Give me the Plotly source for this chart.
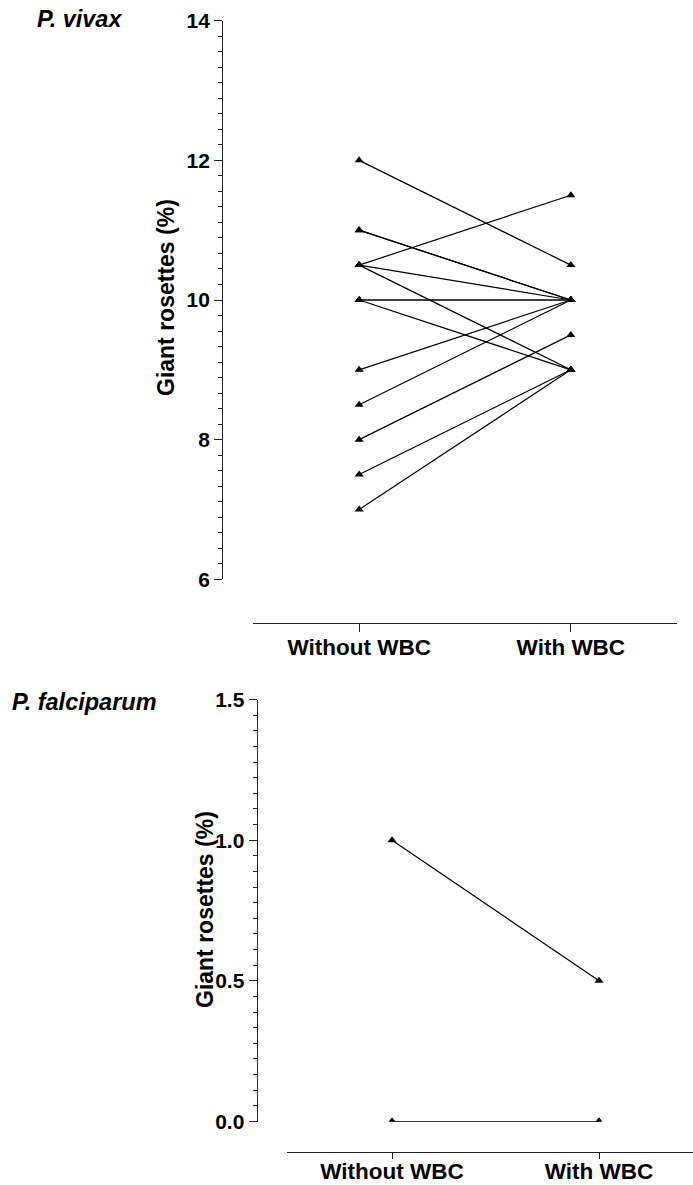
import plotly.graph_objects as go

# Paired measurements: each subject measured without and with white blood cells
groups = ["Without WBC", "With WBC"]

vivax_without = [12, 11, 11, 10.5, 10.5, 10.5, 10, 10, 10, 9, 8.5, 8, 7.5, 7]
vivax_with = [10.5, 10, 10, 11.5, 10, 9, 10, 10, 9, 10, 10, 9.5, 9, 9]

falc_without = [1.0, 0.0, 0.0]
falc_with = [0.5, 0.0, 0.0]

W, H = 693, 1185
FONT = "Liberation Sans"


def px_x(p):
    return p / W


def px_y(p):
    return (H - p) / H


fig = go.Figure()

# one line per subject, joining the two conditions
for a, b in zip(vivax_without, vivax_with):
    fig.add_trace(go.Scatter(
        x=[0, 1], y=[a, b], mode="lines+markers",
        line=dict(color="black", width=1.2),
        marker=dict(symbol="triangle-up", size=8, color="black"),
        xaxis="x", yaxis="y", showlegend=False, hoverinfo="skip"))

for a, b in zip(falc_without, falc_with):
    fig.add_trace(go.Scatter(
        x=[0, 1], y=[a, b], mode="lines+markers",
        line=dict(color="black", width=1.2),
        marker=dict(symbol="triangle-up", size=8, color="black"),
        xaxis="x2", yaxis="y2", showlegend=False, hoverinfo="skip"))

tickfont = dict(family=FONT, size=21, color="black", weight="bold")
xtickfont = dict(family=FONT, size=22.5, color="black", weight="bold")
axcol = "#222222"

common_x = dict(
    tickvals=[0, 1], ticktext=groups, showline=True, linecolor=axcol,
    linewidth=1.3, ticks="outside", tickwidth=1.3, tickcolor=axcol,
    showgrid=False, zeroline=False, tickfont=xtickfont, anchor="free",
    automargin=False, fixedrange=True)

common_y = dict(
    showline=True, linecolor=axcol, linewidth=1.3, ticks="outside",
    ticklen=8, tickwidth=1.3, tickcolor=axcol, showgrid=False,
    zeroline=False, tickfont=tickfont, anchor="free", automargin=False,
    fixedrange=True)

fig.update_layout(
    width=W, height=H,
    margin=dict(l=0, r=0, t=0, b=0, pad=0, autoexpand=False),
    paper_bgcolor="white", plot_bgcolor="white",
    xaxis=dict(domain=[px_x(253.3), px_x(676.7)], range=[-0.5, 1.5],
               position=px_y(622.7), ticklen=8, ticklabelstandoff=-4,
               **common_x),
    yaxis=dict(domain=[px_y(579.3), px_y(20.7)], range=[6, 14],
               tickvals=[6, 8, 10, 12, 14], position=px_x(222.3),
               minor=dict(ticks="outside", ticklen=4, tickwidth=1.3,
                          tickcolor=axcol, tick0=6, dtick=2 / 9),
               **common_y),
    xaxis2=dict(domain=[px_x(286.7), 1.0], range=[-0.509, 1.454],
                position=px_y(1151.7), ticklen=6, ticklabelstandoff=-7,
                **common_x),
    yaxis2=dict(domain=[px_y(1121.5), px_y(699.5)], range=[0, 1.5],
                tickvals=[0, 0.5, 1.0, 1.5], tickformat=".1f",
                position=px_x(256.7),
                minor=dict(ticks="outside", ticklen=4, tickwidth=1.3,
                           tickcolor=axcol, tick0=0, dtick=0.5 / 9),
                **common_y),
)

titlefont = dict(family=FONT, size=23.5, color="black", weight="bold")
ytitlefont = dict(family=FONT, size=23, color="black", weight="bold")

fig.add_annotation(text="<i>P. vivax</i>", x=px_x(35), y=px_y(19),
                   xref="paper", yref="paper", xanchor="left",
                   yanchor="middle", showarrow=False, font=titlefont)
fig.add_annotation(text="<i>P. falciparum</i>", x=px_x(10), y=px_y(702),
                   xref="paper", yref="paper", xanchor="left",
                   yanchor="middle", showarrow=False, font=titlefont)
fig.add_annotation(text="Giant rosettes (%)", x=px_x(166), y=px_y(298),
                   xref="paper", yref="paper", xanchor="center",
                   yanchor="middle", textangle=-90, showarrow=False,
                   font=ytitlefont)
fig.add_annotation(text="Giant rosettes (%)", x=px_x(205), y=px_y(910),
                   xref="paper", yref="paper", xanchor="center",
                   yanchor="middle", textangle=-90, showarrow=False,
                   font=ytitlefont)

fig.write_html("out.html")
